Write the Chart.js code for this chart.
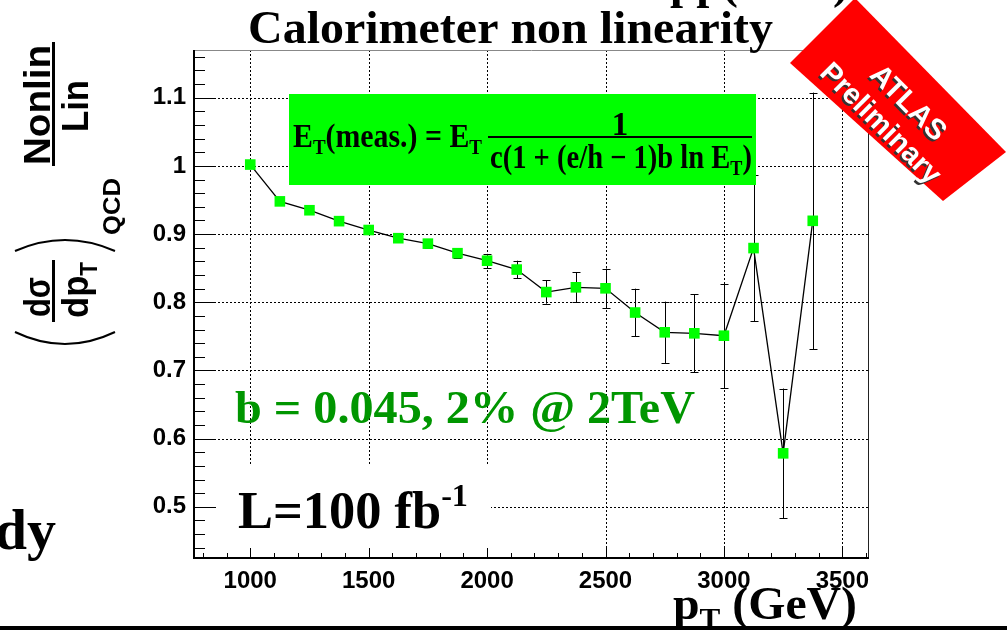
<!DOCTYPE html>
<html>
<head>
<meta charset="utf-8">
<script src="https://cdn.jsdelivr.net/npm/chart.js@4.4.1/dist/chart.umd.min.js"></script>
<style>
  html, body { margin: 0; padding: 0; background: #fff; }
  #wrap { width: 1007px; height: 632px; }
</style>
</head>
<body>
<div id="wrap"><canvas id="chart" width="1007" height="632"></canvas></div>
<script>
// values
const ptBins = [1000, 1125, 1250, 1375, 1500, 1625, 1750, 1875, 2000, 2125,
                2250, 2375, 2500, 2625, 2750, 2875, 3000, 3125, 3250, 3375]
const ratio = [1.002, 0.948, 0.935, 0.919, 0.906, 0.894, 0.886, 0.872, 0.861, 0.848,
               0.815, 0.822, 0.8205, 0.785, 0.756, 0.7545, 0.751, 0.8795, 0.5785, 0.9195]
const ratioErr = [0.003, 0.004, 0.004, 0.005, 0.005, 0.006, 0.006, 0.007, 0.010, 0.013,
                  0.017, 0.022, 0.029, 0.035, 0.045, 0.057, 0.076, 0.107, 0.095, 0.188]
const xTickVals = [1000, 1500, 2000, 2500, 3000, 3500]
const yTickVals = [0.5, 0.6, 0.7, 0.8, 0.9, 1.0, 1.1]
const yTickLabels = ["0.5", "0.6", "0.7", "0.8", "0.9", "1", "1.1"]

const SERIF = '"Liberation Serif", "Times New Roman", serif'
const SANS = '"Liberation Sans", Arial, sans-serif'

// draws a list of text runs on one baseline, optionally squeezed to a width
function drawRuns(ctx, runs, x, y, width) {
  let total = 0
  runs.forEach(r => { ctx.font = r.font; r.w = ctx.measureText(r.t).width; total += r.w })
  const sx = width ? width / total : 1
  ctx.save()
  ctx.translate(x, y)
  ctx.scale(sx, 1)
  ctx.textAlign = "left"
  ctx.textBaseline = "alphabetic"
  let cx = 0
  runs.forEach(r => {
    ctx.font = r.font
    ctx.fillText(r.t, cx, r.dy || 0)
    cx += r.w
  })
  ctx.restore()
}

function seg(ctx, x1, y1, x2, y2) {
  ctx.beginPath()
  ctx.moveTo(x1, y1)
  ctx.lineTo(x2, y2)
  ctx.stroke()
}

const rootStyle = {
  id: "rootStyle",
  beforeDatasetsDraw(chart) {
    const { ctx, chartArea: a, scales: { x, y } } = chart
    ctx.save()

    // dotted grid
    ctx.strokeStyle = "#000"
    ctx.lineWidth = 1
    ctx.setLineDash([2, 2])
    xTickVals.forEach(v => {
      const px = Math.round(x.getPixelForValue(v)) + 0.5
      seg(ctx, px, a.top, px, a.bottom)
    })
    yTickVals.forEach(v => {
      const py = Math.round(y.getPixelForValue(v)) + 0.5
      seg(ctx, a.left, py, a.right, py)
    })
    ctx.setLineDash([])

    // white pad behind the luminosity label
    ctx.fillStyle = "#fff"
    ctx.fillRect(a.left, 465, 297, a.bottom - 465)

    // ticks inside the frame
    ctx.strokeStyle = "#000"
    ctx.lineWidth = 1
    for (let v = 800; v <= 3600; v += 100) {
      const px = Math.round(x.getPixelForValue(v)) + 0.5
      const len = v % 500 === 0 ? 10 : 5
      seg(ctx, px, a.bottom, px, a.bottom - len)
    }
    for (let k = 22; k <= 58; k++) {
      const v = k * 0.02
      const py = Math.round(y.getPixelForValue(v)) + 0.5
      const len = k % 5 === 0 ? 22 : 11
      seg(ctx, a.left, py, a.left + len, py)
    }

    // frame
    ctx.strokeStyle = "#888"
    seg(ctx, a.left, a.top + 0.5, a.right, a.top + 0.5)
    ctx.strokeStyle = "#222"
    seg(ctx, a.right - 0.5, a.top, a.right - 0.5, a.bottom)
    ctx.strokeStyle = "#000"
    ctx.lineWidth = 2
    seg(ctx, a.left, a.top, a.left, a.bottom + 1)
    seg(ctx, a.left - 1, a.bottom, a.right, a.bottom)

    // error bars
    ctx.save()
    ctx.beginPath()
    ctx.rect(a.left, a.top, a.right - a.left, a.bottom - a.top)
    ctx.clip()
    ctx.lineWidth = 1
    ctx.strokeStyle = "#000"
    ptBins.forEach((p, i) => {
      const px = Math.round(x.getPixelForValue(p)) + 0.5
      const top = y.getPixelForValue(ratio[i] + ratioErr[i])
      const bot = y.getPixelForValue(ratio[i] - ratioErr[i])
      seg(ctx, px, top, px, bot)
      seg(ctx, px - 4, Math.round(top) + 0.5, px + 4, Math.round(top) + 0.5)
      seg(ctx, px - 4, Math.round(bot) + 0.5, px + 4, Math.round(bot) + 0.5)
    })
    ctx.restore()
    ctx.restore()
  },
  afterDraw(chart) {
    const ctx = chart.ctx
    ctx.save()
    ctx.fillStyle = "#000"

    // formula box
    ctx.fillStyle = "#00ff00"
    ctx.fillRect(289, 94, 467, 91)
    ctx.fillStyle = "#000"
    const f = "bold 33px " + SERIF
    const fs = "bold 21px " + SERIF
    drawRuns(ctx, [
      { t: "E", font: f }, { t: "T", font: fs, dy: 7 },
      { t: "(meas.) = E", font: f }, { t: "T", font: fs, dy: 7 }
    ], 293, 147, 189)
    ctx.fillRect(488, 136, 264, 2)
    ctx.font = f
    ctx.textAlign = "center"
    ctx.fillText("1", 620, 135)
    drawRuns(ctx, [
      { t: "c(1 + (e/h \u2212 1)b ln E", font: f }, { t: "T", font: fs, dy: 7 },
      { t: ")", font: f }
    ], 490, 168, 262)

    // title and the cut line above it
    drawRuns(ctx, [{ t: "Calorimeter non linearity", font: "bold 47px " + SERIF }], 248, 43, 525)
    drawRuns(ctx, [{ t: "pp(", font: "bold 47px " + SERIF }], 670, -2)
    drawRuns(ctx, [{ t: ")", font: "bold 47px " + SERIF }], 833, -2)

    // annotations inside the frame
    ctx.fillStyle = "#009600"
    drawRuns(ctx, [{ t: "b = 0.045, 2% @ 2TeV", font: "bold 46px " + SERIF }], 235, 423, 460)
    ctx.fillStyle = "#000"
    drawRuns(ctx, [
      { t: "L=100 fb", font: "bold 52px " + SERIF },
      { t: "-1", font: "bold 32px " + SERIF, dy: -22 }
    ], 238, 528, 230)

    // y title, rotated
    const s36 = "bold 37px " + SANS
    ctx.save()
    ctx.translate(50, 165)
    ctx.rotate(-Math.PI / 2)
    drawRuns(ctx, [{ t: "Nonlin", font: s36 }], 0, 0, 120)
    ctx.restore()
    ctx.fillRect(52, 42, 3, 124)
    ctx.save()
    ctx.translate(88, 132)
    ctx.rotate(-Math.PI / 2)
    drawRuns(ctx, [{ t: "Lin", font: s36 }], 0, 0, 52)
    ctx.restore()

    ctx.save()
    ctx.translate(50, 317)
    ctx.rotate(-Math.PI / 2)
    drawRuns(ctx, [{ t: "d\u03c3", font: s36 }], 0, 0, 40)
    ctx.restore()
    ctx.fillRect(52, 260, 3, 62)
    ctx.save()
    ctx.translate(88, 318)
    ctx.rotate(-Math.PI / 2)
    drawRuns(ctx, [
      { t: "dp", font: s36 },
      { t: "T", font: "bold 24px " + SANS, dy: 9 }
    ], 0, 0, 56)
    ctx.restore()
    ctx.save()
    ctx.translate(120, 235)
    ctx.rotate(-Math.PI / 2)
    drawRuns(ctx, [{ t: "QCD", font: "bold 24px " + SANS }], 0, 0, 57)
    ctx.restore()
    ctx.strokeStyle = "#000"
    ctx.lineWidth = 2
    ctx.beginPath()
    ctx.moveTo(15, 251)
    ctx.quadraticCurveTo(65, 229, 115, 251)
    ctx.stroke()
    ctx.beginPath()
    ctx.moveTo(15, 332)
    ctx.quadraticCurveTo(65, 356, 115, 332)
    ctx.stroke()

    // leftover of a caption on the left
    ctx.font = "bold 58px " + SERIF
    ctx.textAlign = "right"
    ctx.fillText("dy", 56, 549)

    // x title
    drawRuns(ctx, [
      { t: "p", font: "bold 46px " + SERIF },
      { t: "T", font: "bold 30px " + SERIF, dy: 9 },
      { t: " (GeV)", font: "bold 46px " + SERIF }
    ], 673, 619, 184)
    ctx.fillRect(0, 626, 1007, 4)

    // ATLAS Preliminary banner
    ctx.fillStyle = "#ff0000"
    ctx.beginPath()
    ctx.moveTo(790, 63)
    ctx.lineTo(855, -2)
    ctx.lineTo(1006, 152)
    ctx.lineTo(943, 201)
    ctx.closePath()
    ctx.fill()
    ctx.save()
    ctx.translate(897, 110)
    ctx.rotate(Math.PI / 4)
    ctx.fillStyle = "#fff"
    ctx.font = "bold 29px " + SANS
    ctx.textAlign = "center"
    ctx.textBaseline = "middle"
    ctx.shadowColor = "#333"
    ctx.shadowOffsetX = -2
    ctx.shadowOffsetY = 2
    ctx.fillText("ATLAS", 3, -12)
    ctx.fillText("Preliminary", -2, 22)
    ctx.restore()

    ctx.restore()
  }
}

new Chart(document.getElementById("chart"), {
  type: "line",
  data: {
    datasets: [{
      data: ptBins.map((p, i) => ({ x: p, y: ratio[i] })),
      borderColor: "#000",
      borderWidth: 1.3,
      tension: 0,
      pointStyle: "rect",
      pointRadius: 7.5,
      pointBackgroundColor: "#00ff00",
      pointBorderWidth: 0,
    }],
  },
  options: {
    responsive: false,
    animation: false,
    events: [],
    layout: { padding: { left: 0, right: 138, top: 50, bottom: 34 } },
    plugins: { legend: { display: false }, tooltip: { enabled: false } },
    scales: {
      x: {
        type: "linear",
        min: 762.5,
        max: 3612.5,
        afterFit: s => { s.height = 40 },
        afterBuildTicks: s => { s.ticks = xTickVals.map(v => ({ value: v })) },
        grid: { display: false, drawTicks: false },
        border: { display: false },
        ticks: {
          padding: 9,
          color: "#000",
          autoSkip: false,
          maxRotation: 0,
          font: { family: SANS, size: 24, weight: "bold" },
          callback: v => String(v),
        },
      },
      y: {
        type: "linear",
        min: 0.425,
        max: 1.17,
        afterFit: s => { s.width = 194 },
        afterBuildTicks: s => { s.ticks = yTickVals.map(v => ({ value: v })) },
        grid: { display: false, drawTicks: false },
        border: { display: false },
        ticks: {
          padding: 8,
          color: "#000",
          autoSkip: false,
          font: { family: SANS, size: 24, weight: "bold" },
          callback: (v, i) => yTickLabels[i],
        },
      },
    },
  },
  plugins: [rootStyle],
})
</script>
</body>
</html>
